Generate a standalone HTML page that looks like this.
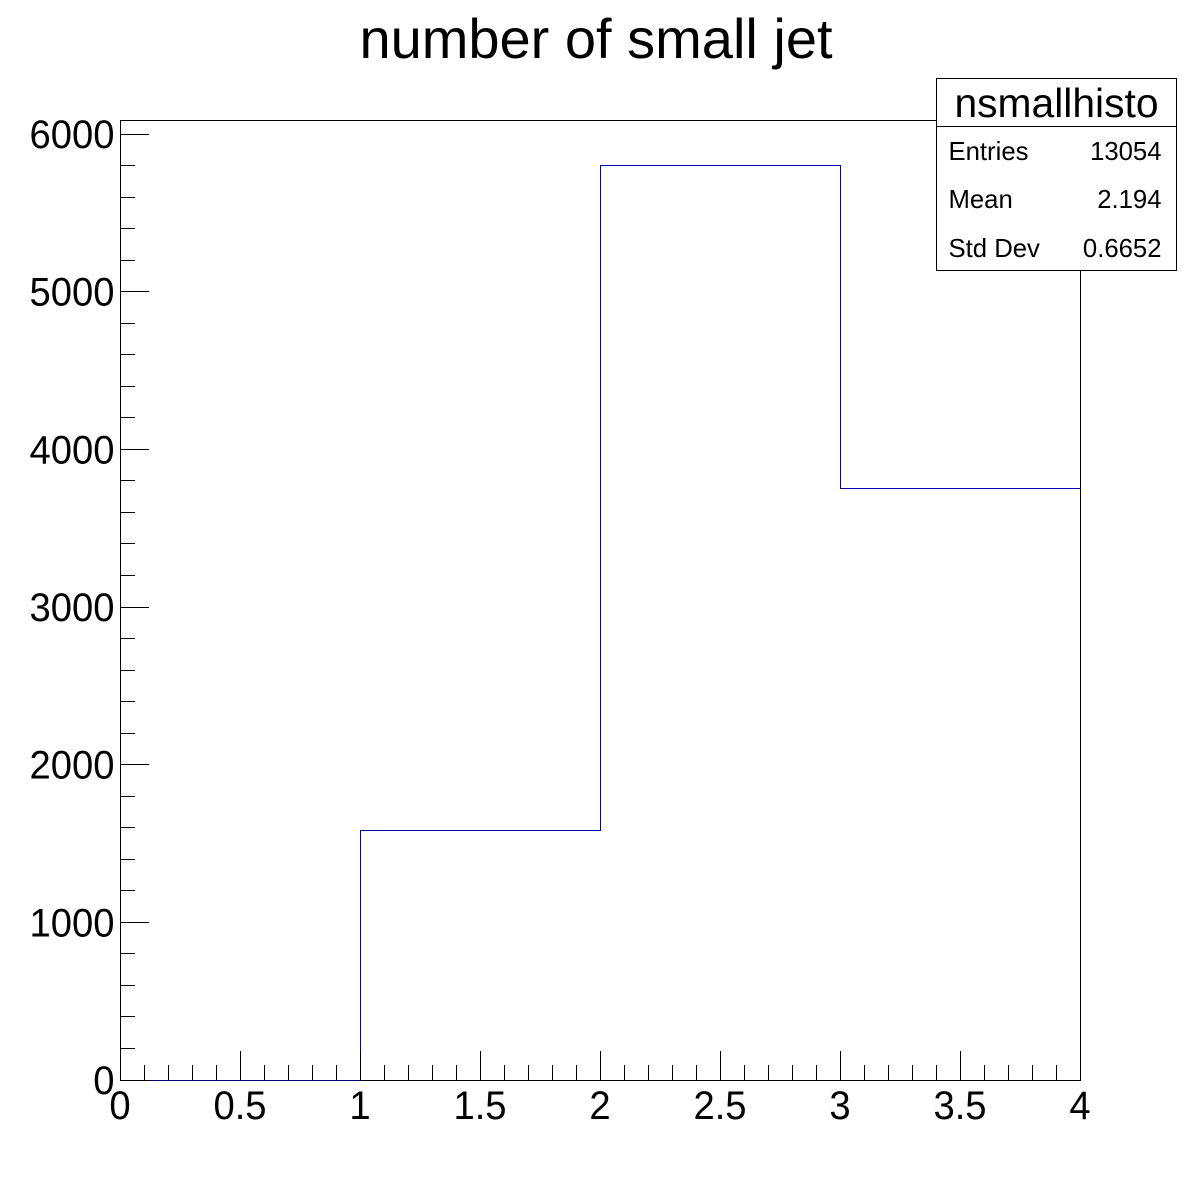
<!DOCTYPE html>
<html lang="en">
<head>
<meta charset="utf-8">
<title>number of small jet</title>
<style>
html,body{margin:0;padding:0;background:#fff;}
svg{display:block;}
text{font-family:"Liberation Sans",sans-serif;fill:#000;}
</style>
</head>
<body>
<svg id="chart" xmlns="http://www.w3.org/2000/svg" width="1200" height="1200" viewBox="0 0 1200 1200">
<rect x="0" y="0" width="1200" height="1200" fill="#fff"/>
<text x="596" y="58" font-size="56" text-anchor="middle">number of small jet</text>
<g id="hist"></g>
<g id="axes"></g>
<g>
<rect x="936.5" y="78.5" width="240" height="192" fill="#fff" stroke="#000" stroke-width="1" shape-rendering="crispEdges"/>
<line x1="936" y1="126.5" x2="1176" y2="126.5" stroke="#000" stroke-width="1" shape-rendering="crispEdges"/>
<text x="1056.5" y="117" font-size="40.8" text-anchor="middle">nsmallhisto</text>
<text x="948.5" y="160" font-size="25.7">Entries</text>
<text x="1161.5" y="160" font-size="25.7" text-anchor="end">13054</text>
<text x="948.5" y="208" font-size="25.7">Mean</text>
<text x="1161.5" y="208" font-size="25.7" text-anchor="end">2.194</text>
<text x="948.5" y="257" font-size="25.7">Std Dev</text>
<text x="1161.5" y="257" font-size="25.7" text-anchor="end">0.6652</text>
</g>
</svg>
<script>
const binEdges = [0, 1, 2, 3, 4];
const binCounts = [0, 1585, 5803, 3750];
const xTickValues = [0, 0.5, 1, 1.5, 2, 2.5, 3, 3.5, 4];
const xTickLabels = ['0', '0.5', '1', '1.5', '2', '2.5', '3', '3.5', '4'];
const yTickValues = [0, 1000, 2000, 3000, 4000, 5000, 6000];
const yTickLabels = ['0', '1000', '2000', '3000', '4000', '5000', '6000'];

const NS = 'http://www.w3.org/2000/svg';
const plotLeft = 120, plotRight = 1080, plotTop = 120, plotBottom = 1080;
const xMin = 0, xMax = 4, yMin = 0, yMax = 6089;
const labelSize = 40, labelSqueeze = 0.955;

function xScale(v) {
  return plotLeft + (v - xMin) / (xMax - xMin) * (plotRight - plotLeft);
}
function yScale(v) {
  return plotBottom - (v - yMin) / (yMax - yMin) * (plotBottom - plotTop);
}
function px(v) {
  return Math.floor(v + 0.001) + 0.5;
}
function makeLine(parent, x1, y1, x2, y2) {
  const el = document.createElementNS(NS, 'line');
  el.setAttribute('x1', x1);
  el.setAttribute('y1', y1);
  el.setAttribute('x2', x2);
  el.setAttribute('y2', y2);
  el.setAttribute('stroke', '#000');
  el.setAttribute('stroke-width', '1');
  el.setAttribute('shape-rendering', 'crispEdges');
  parent.appendChild(el);
  return el;
}
function makeLabel(parent, x, y, anchor, str) {
  const el = document.createElementNS(NS, 'text');
  el.setAttribute('x', 0);
  el.setAttribute('y', 0);
  el.setAttribute('transform', 'translate(' + x + ' ' + y + ') scale(' + labelSqueeze + ' 1)');
  el.setAttribute('font-size', labelSize);
  el.setAttribute('text-anchor', anchor);
  el.textContent = str;
  parent.appendChild(el);
  return el;
}

const axes = document.getElementById('axes');
const hist = document.getElementById('hist');

/* bottom axis line sits under the histogram outline */
const axisBottom = makeLine(hist, plotLeft, px(plotBottom), plotRight + 1, px(plotBottom));



/* histogram outline */
let d = 'M' + px(xScale(binEdges[0])) + ' ' + px(yScale(binCounts[0]));
binCounts.forEach(function (count, i) {
  const y = px(yScale(count));
  d += ' L' + px(xScale(binEdges[i])) + ' ' + y;
  d += ' L' + px(xScale(binEdges[i + 1])) + ' ' + y;
});
d += ' L' + px(xScale(binEdges[binEdges.length - 1])) + ' ' + px(yScale(0));
const outline = document.createElementNS(NS, 'path');


outline.setAttribute('d', d);
outline.setAttribute('fill', 'none');
outline.setAttribute('stroke', '#0000b0');
outline.setAttribute('stroke-width', '1');
outline.setAttribute('shape-rendering', 'crispEdges');
hist.appendChild(outline);

/* empty bins: the outline overlaps the axis line, which darkens it to navy */
binCounts.forEach(function (count, i) {
  if (count === 0) {
    const seg = makeLine(hist, xScale(binEdges[i]), px(plotBottom), xScale(binEdges[i + 1]), px(plotBottom));
    
    
    seg.setAttribute('stroke', '#000078');
  }
});

/* frame */
const frameTop = makeLine(axes, plotLeft, px(plotTop), plotRight + 1, px(plotTop));


const frameRight = makeLine(axes, px(plotRight), plotTop, px(plotRight), plotBottom + 1);


const frameLeft = makeLine(axes, px(plotLeft), plotTop, px(plotLeft), plotBottom + 1);



/* x ticks: major with labels, four minor divisions between */
xTickValues.forEach(function (v, i) {
  const x = px(xScale(v));
  const tick = makeLine(axes, x, plotBottom - 29, x, plotBottom);
  
  
  const label = makeLabel(axes, xScale(v), 1119, 'middle', xTickLabels[i]);
  
  
  if (i < xTickValues.length - 1) {
    const step = (xTickValues[i + 1] - v) / 5;
    for (let k = 1; k < 5; k++) {
      const mx = px(xScale(v + k * step));
      const minor = makeLine(axes, mx, plotBottom - 15, mx, plotBottom);
      
      
    }
  }
});

/* y ticks: major with labels, four minor divisions between */
yTickValues.forEach(function (v, i) {
  const y = px(yScale(v));
  const tick = makeLine(axes, plotLeft, y, plotLeft + 29, y);
  
  
  const label = makeLabel(axes, 114.5, yScale(v) + 14, 'end', yTickLabels[i]);
  
  
  if (i < yTickValues.length - 1) {
    const step = (yTickValues[i + 1] - v) / 5;
    for (let k = 1; k < 5; k++) {
      const my = px(yScale(v + k * step));
      const minor = makeLine(axes, plotLeft, my, plotLeft + 15, my);
      
      
    }
  }
});
</script>
</body>
</html>
